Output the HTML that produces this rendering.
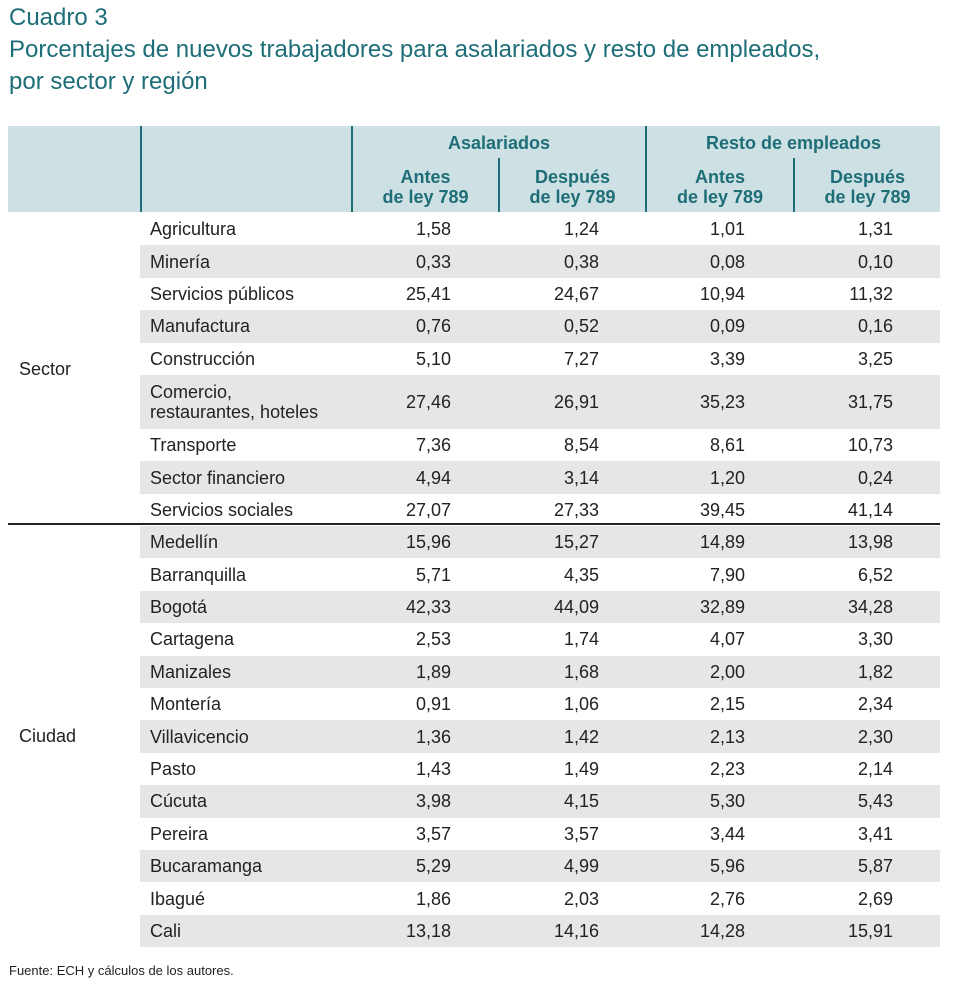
<!DOCTYPE html>
<html><head><meta charset="utf-8">
<style>
body{margin:0;width:955px;height:992px;background:#fff;position:relative;font-family:"Liberation Sans",sans-serif;overflow:hidden}
.t{position:absolute;left:9px;color:#1e6e78;font-size:24px;white-space:nowrap}
#hdr{position:absolute;left:8px;top:126px;width:932px;height:86px;background:#cde0e3}
.vl{position:absolute;width:2px;background:#1e6e78}
.h{position:absolute;color:#1e6e78;font-weight:bold;font-size:18px;text-align:center;line-height:20px}
.row{position:absolute;left:140px;width:800px}
.g{background:#e6e6e6}
.c{position:absolute;font-size:18px;color:#222;white-space:nowrap;line-height:20px}
.n{text-align:right;width:100px}
</style></head><body>
<div class="t" style="top:4px">Cuadro 3</div>
<div class="t" style="top:36px">Porcentajes de nuevos trabajadores para asalariados y resto de empleados,</div>
<div class="t" style="top:68px">por sector y región</div>
<div id="hdr"></div>
<div class="vl" style="left:140px;top:126px;height:86px"></div>
<div class="vl" style="left:351px;top:126px;height:86px"></div>
<div class="vl" style="left:645px;top:126px;height:86px"></div>
<div class="vl" style="left:498px;top:158px;height:54px"></div>
<div class="vl" style="left:793px;top:158px;height:54px"></div>
<div class="h" style="left:353px;width:292px;top:133px">Asalariados</div>
<div class="h" style="left:647px;width:293px;top:133px">Resto de empleados</div>
<div class="h" style="left:353px;width:145px;top:167px">Antes<br>de ley 789</div>
<div class="h" style="left:500px;width:145px;top:167px">Después<br>de ley 789</div>
<div class="h" style="left:647px;width:146px;top:167px">Antes<br>de ley 789</div>
<div class="h" style="left:795px;width:145px;top:167px">Después<br>de ley 789</div>
<div style="position:absolute;left:8px;top:523px;width:932px;height:1.5px;background:#222"></div>
<div class="c" style="left:19px;top:359px">Sector</div>
<div class="c" style="left:19px;top:726px">Ciudad</div>
<div class="c" style="left:9px;top:961px;font-size:13px">Fuente: ECH y cálculos de los autores.</div>
<script>
const labels=["Agricultura","Minería","Servicios públicos","Manufactura","Construcción","Comercio,<br>restaurantes, hoteles","Transporte","Sector financiero","Servicios sociales","Medellín","Barranquilla","Bogotá","Cartagena","Manizales","Montería","Villavicencio","Pasto","Cúcuta","Pereira","Bucaramanga","Ibagué","Cali"];
const asalAntes=["1,58","0,33","25,41","0,76","5,10","27,46","7,36","4,94","27,07","15,96","5,71","42,33","2,53","1,89","0,91","1,36","1,43","3,98","3,57","5,29","1,86","13,18"];
const asalDesp=["1,24","0,38","24,67","0,52","7,27","26,91","8,54","3,14","27,33","15,27","4,35","44,09","1,74","1,68","1,06","1,42","1,49","4,15","3,57","4,99","2,03","14,16"];
const restoAntes=["1,01","0,08","10,94","0,09","3,39","35,23","8,61","1,20","39,45","14,89","7,90","32,89","4,07","2,00","2,15","2,13","2,23","5,30","3,44","5,96","2,76","14,28"];
const restoDesp=["1,31","0,10","11,32","0,16","3,25","31,75","10,73","0,24","41,14","13,98","6,52","34,28","3,30","1,82","2,34","2,30","2,14","5,43","3,41","5,87","2,69","15,91"];
const cols=[asalAntes,asalDesp,restoAntes,restoDesp];
const rights=[451,599,745,893];
let y=213;
for(let i=0;i<labels.length;i++){
  let h=32.4;
  if(i===5)h=54;
  if(i===9)y=526;
  const gray=(i<9)?(i%2===1):((i-9)%2===0);
  const r=document.createElement('div');
  r.className='row'+(gray?' g':'');
  r.style.top=y+'px';r.style.height=h+'px';
  
  
  document.body.appendChild(r);
  const l=document.createElement('div');
  l.className='c';l.innerHTML=labels[i];
  l.style.left='150px';l.style.top=(y+h/2-(i===5?20:10))+'px';
  
  
  document.body.appendChild(l);
  for(let k=0;k<4;k++){
    const c=document.createElement('div');
    c.className='c n';c.textContent=cols[k][i];
    c.style.left=(rights[k]-100)+'px';c.style.top=(y+h/2-10)+'px';
    
    
    document.body.appendChild(c);
  }
  y+=h;
}
</script>
</body></html>
